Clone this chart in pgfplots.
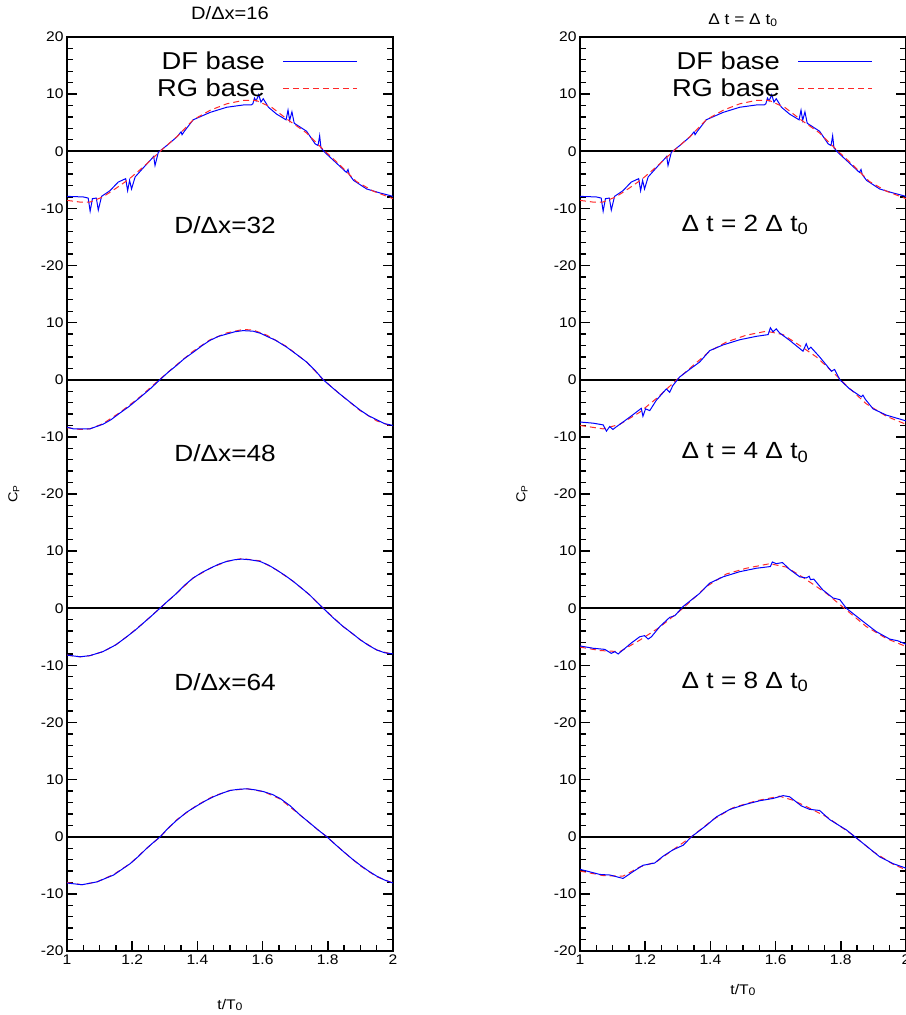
\documentclass[border=0pt]{standalone}
\usepackage{pgfplots}
\pgfplotsset{compat=1.18}
\usepackage{pgfplotstable}
\usepackage{fontspec}
\setmainfont{Liberation Sans}[FakeStretch=1.12]
\newcommand\sub[1]{\textsubscript{#1}}

% ---------- data: left column ----------
\pgfplotstableread{
x y
1.000 -7.9
1.050 -8.0
1.065 -8.2
1.071 -10.5
1.078 -8.3
1.090 -8.2
1.096 -10.3
1.106 -7.9
1.132 -6.9
1.157 -5.4
1.180 -4.8
1.186 -6.9
1.192 -5.1
1.198 -6.6
1.209 -4.5
1.234 -2.9
1.260 -1.3
1.266 -0.9
1.270 -2.5
1.280 -0.2
1.306 1.0
1.337 2.5
1.350 3.4
1.353 2.9
1.360 3.5
1.387 5.5
1.439 6.8
1.490 7.7
1.541 8.1
1.565 8.1
1.570 8.3
1.575 9.3
1.580 8.8
1.588 9.9
1.595 8.6
1.602 9.2
1.618 7.7
1.643 6.5
1.672 5.5
1.678 7.2
1.683 5.4
1.690 6.9
1.697 4.9
1.735 3.5
1.761 1.3
1.770 1.0
1.775 2.7
1.779 0.6
1.791 -0.2
1.827 -2.1
1.857 -3.7
1.862 -3.2
1.866 -4.1
1.879 -5.1
1.919 -6.6
1.960 -7.3
2.000 -7.9
}\pDFa
\pgfplotstableread{
x y
1.000 -8.6
1.040 -8.9
1.070 -8.9
1.110 -8.0
1.150 -6.5
1.190 -4.9
1.235 -2.7
1.290 0.2
1.340 2.7
1.387 5.5
1.440 7.2
1.490 8.3
1.540 8.9
1.580 8.9
1.630 7.6
1.680 5.4
1.735 3.2
1.786 0.3
1.837 -2.4
1.888 -5.3
1.940 -7.0
2.000 -8.3
}\pRGa
\pgfplotstableread{
x y
1.000 -8.3
1.020 -8.6
1.040 -8.6
1.070 -8.6
1.090 -8.2
1.110 -7.8
1.135 -7.0
1.163 -5.8
1.190 -4.7
1.224 -3.1
1.255 -1.6
1.285 0.0
1.310 1.3
1.336 2.5
1.360 3.7
1.387 4.8
1.415 6.0
1.439 6.9
1.465 7.6
1.490 8.0
1.515 8.4
1.540 8.6
1.571 8.5
1.595 8.1
1.613 7.6
1.640 6.9
1.674 5.7
1.705 4.4
1.735 3.1
1.760 1.7
1.786 0.0
1.810 -1.2
1.837 -2.5
1.870 -4.0
1.899 -5.3
1.925 -6.3
1.950 -7.0
1.975 -7.7
2.000 -8.0
}\pDFb
\pgfplotstableread{
x y
1.000 -8.4
1.040 -8.7
1.070 -8.6
1.110 -7.7
1.163 -5.7
1.224 -3.0
1.285 0.1
1.336 2.6
1.387 5.0
1.439 7.0
1.490 8.2
1.540 8.8
1.571 8.7
1.613 7.8
1.674 5.8
1.735 3.1
1.786 0.0
1.837 -2.5
1.899 -5.4
1.950 -7.2
2.000 -8.2
}\pRGb
\pgfplotstableread{
x y
1.000 -8.2
1.040 -8.5
1.070 -8.3
1.110 -7.6
1.150 -6.4
1.183 -5.0
1.210 -3.8
1.234 -2.6
1.260 -1.3
1.285 0.0
1.310 1.3
1.336 2.6
1.360 4.0
1.387 5.3
1.415 6.3
1.439 7.0
1.465 7.7
1.490 8.2
1.515 8.5
1.536 8.6
1.560 8.5
1.592 8.2
1.620 7.5
1.643 6.7
1.670 5.7
1.694 4.7
1.720 3.5
1.745 2.3
1.766 1.1
1.786 0.0
1.815 -1.6
1.847 -3.2
1.875 -4.4
1.899 -5.5
1.925 -6.5
1.950 -7.3
1.975 -7.8
2.000 -8.0
}\pDFc
\pgfplotstableread{
x y
1.000 -8.2
1.040 -8.5
1.070 -8.3
1.110 -7.6
1.150 -6.4
1.183 -5.0
1.234 -2.6
1.285 0.0
1.336 2.6
1.387 5.3
1.439 7.0
1.490 8.2
1.536 8.7
1.592 8.3
1.643 6.7
1.694 4.7
1.745 2.3
1.786 0.0
1.847 -3.2
1.899 -5.5
1.950 -7.3
2.000 -8.1
}\pRGc
\pgfplotstableread{
x y
1.000 -8.1
1.046 -8.4
1.092 -7.9
1.143 -6.7
1.194 -4.7
1.220 -3.4
1.245 -2.0
1.265 -1.0
1.286 0.0
1.310 1.5
1.337 2.9
1.367 4.3
1.398 5.4
1.425 6.3
1.449 7.0
1.475 7.6
1.500 8.1
1.525 8.3
1.552 8.4
1.578 8.2
1.603 7.9
1.630 7.4
1.654 6.7
1.685 5.4
1.715 3.8
1.745 2.4
1.770 1.2
1.797 0.0
1.822 -1.3
1.848 -2.6
1.875 -3.9
1.900 -5.0
1.925 -6.0
1.950 -6.9
1.975 -7.6
2.000 -8.1
}\pDFd
\pgfplotstableread{
x y
1.000 -8.0
1.046 -8.4
1.092 -7.9
1.143 -6.6
1.194 -4.7
1.245 -2.0
1.286 0.0
1.337 3.0
1.398 5.5
1.449 7.1
1.500 8.1
1.552 8.4
1.603 7.9
1.654 6.6
1.715 3.8
1.770 1.2
1.797 0.0
1.848 -2.6
1.900 -5.1
1.950 -7.0
2.000 -8.1
}\pRGd
% ---------- data: right column ----------
\pgfplotstableread{
x y
1.000 -7.4
1.040 -7.6
1.071 -7.9
1.081 -9.0
1.091 -8.2
1.101 -8.7
1.110 -8.3
1.132 -7.4
1.163 -6.1
1.188 -5.0
1.193 -6.4
1.201 -5.1
1.214 -5.4
1.234 -3.6
1.265 -1.6
1.275 -2.2
1.285 -1.0
1.306 0.5
1.336 1.8
1.367 3.1
1.398 5.1
1.439 6.1
1.490 7.0
1.541 7.6
1.577 7.9
1.584 9.1
1.592 8.4
1.602 8.9
1.612 8.2
1.643 6.9
1.684 5.0
1.694 6.3
1.701 5.3
1.708 5.7
1.735 4.0
1.771 1.5
1.781 1.8
1.797 0.0
1.827 -1.6
1.863 -3.0
1.868 -2.7
1.875 -3.4
1.899 -5.1
1.940 -6.2
1.970 -6.7
2.000 -7.2
}\qDFb
\pgfplotstableread{
x y
1.000 -8.0
1.071 -8.6
1.122 -7.8
1.183 -5.7
1.234 -3.3
1.295 -0.1
1.347 2.5
1.398 5.0
1.449 6.6
1.510 7.8
1.572 8.5
1.623 7.9
1.674 6.0
1.725 4.0
1.776 1.3
1.817 -1.0
1.878 -4.2
1.940 -6.4
2.000 -7.8
}\qRGb
\pgfplotstableread{
x y
1.000 -6.6
1.040 -7.0
1.076 -7.2
1.096 -7.9
1.107 -7.6
1.117 -8.0
1.132 -7.3
1.157 -6.1
1.183 -5.0
1.198 -4.8
1.209 -5.4
1.219 -5.0
1.245 -3.2
1.275 -1.6
1.291 -1.3
1.316 0.3
1.367 2.6
1.398 4.4
1.439 5.5
1.490 6.4
1.541 7.0
1.584 7.3
1.590 8.1
1.602 7.8
1.621 8.0
1.643 6.8
1.674 5.5
1.694 5.3
1.703 5.6
1.707 5.0
1.717 5.1
1.745 3.2
1.776 1.8
1.797 1.5
1.817 0.0
1.868 -2.3
1.909 -4.1
1.950 -5.4
1.975 -5.7
2.000 -6.3
}\qDFc
\pgfplotstableread{
x y
1.000 -6.8
1.061 -7.4
1.122 -7.6
1.183 -5.6
1.245 -3.3
1.316 0.0
1.388 3.8
1.449 6.0
1.510 7.0
1.582 7.8
1.633 7.2
1.684 5.4
1.756 2.6
1.817 -0.3
1.878 -3.2
1.940 -5.3
2.000 -6.7
}\qRGc
\pgfplotstableread{
x y
1.000 -5.7
1.061 -6.6
1.092 -6.7
1.132 -7.3
1.163 -6.1
1.193 -5.0
1.229 -4.6
1.255 -3.4
1.285 -2.3
1.316 -1.5
1.342 0.0
1.388 2.0
1.419 3.5
1.460 4.8
1.510 5.7
1.551 6.3
1.592 6.7
1.623 7.2
1.643 7.0
1.679 5.4
1.704 4.8
1.735 4.6
1.766 3.0
1.797 1.9
1.817 1.2
1.843 0.0
1.878 -1.6
1.919 -3.5
1.960 -4.7
2.000 -5.5
}\qDFd
\pgfplotstableread{
x y
1.000 -6.0
1.071 -6.8
1.132 -6.9
1.183 -5.3
1.234 -4.4
1.285 -2.3
1.342 0.0
1.408 3.0
1.470 5.1
1.541 6.3
1.612 7.1
1.653 6.4
1.694 5.3
1.756 3.5
1.837 0.3
1.899 -2.6
1.960 -4.8
2.000 -5.8
}\qRGd

\definecolor{dfblue}{RGB}{0,0,255}
\definecolor{rgred}{RGB}{255,40,40}

\tikzset{plabel/.style={font=\fontsize{23.5}{28}\selectfont}}

\pgfplotsset{
  panel/.style={
    scale only axis, width=326bp, height=914bp,
    xmin=1, xmax=2, ymin=-20, ymax=140,
    xtick={1,1.2,1.4,1.6,1.8,2},
    xticklabels={1,1.2,1.4,1.6,1.8,2},
    minor x tick num=3,
    ytick={-20,-10,0,10,20,30,40,50,60,70,80,90,100,110,120,130,140},
    yticklabels={-20,-10,0,10,-20,-10,0,10,-20,-10,0,10,-20,-10,0,10,20},
    minor y tick num=4,
    xtick pos=bottom, ytick pos=both,
    tick align=inside,
    major tick length=10bp, minor tick length=6bp,
    every major tick/.style={black, line width=1.6bp},
    every minor tick/.style={black, line width=1.3bp},
    axis line style={line width=2.4bp},
    tick label style={font=\fontsize{14}{16}\selectfont},
    every axis title shift=0pt,
    legend cell align=right,
    legend plot pos=right,
    legend image code/.code={\draw[mark repeat=2,mark phase=2] plot coordinates {(0bp,0bp) (37bp,0bp) (74bp,0bp)};},
    legend style={draw=none, fill=none, inner sep=0pt,
      font=\fontsize{24.5}{28}\selectfont, row sep=4bp, column sep=16bp},
  },
  zero/.style={black, line width=2bp, forget plot},
  dfl/.style={color=dfblue, line width=1bp},
  rgl/.style={color=rgred, line width=1bp, dash pattern=on 6bp off 4bp},
  df/.style={dfl, forget plot},
  rg/.style={rgl, forget plot},
}

\begin{document}
\begin{tikzpicture}
% ================= left column =================
\begin{axis}[panel, at={(67bp,64bp)}, anchor=south west,
  title={\fontsize{18}{20}\selectfont D/Δx=16},
  title style={at={(axis description cs:0.5,1.0186)}, anchor=base},
  xlabel={\fontsize{14}{16}\selectfont t/T\raisebox{-0.15ex}{\fontsize{11}{12}\selectfont 0}},
  xlabel style={at={(axis description cs:0.5,-0.059)}, anchor=center},
  ylabel={\fontsize{13}{15}\selectfont C\sub{P}},
  ylabel style={at={(axis description cs:-0.163,0.5)}, anchor=center},
  legend style={at={(rel axis cs:0.893,0.986)}, anchor=north east},
]
\addplot[zero] coordinates {(1,0) (2,0)};
\addplot[zero] coordinates {(1,40) (2,40)};
\addplot[zero] coordinates {(1,80) (2,80)};
\addplot[zero] coordinates {(1,120) (2,120)};
\addplot[dfl] table[x=x, y expr=\thisrow{y}+120] {\pDFa};
\addlegendentry{DF base}
\addplot[rgl] table[x=x, y expr=\thisrow{y}+120] {\pRGa};
\addlegendentry{RG base}
\addplot[rg] table[x=x, y expr=\thisrow{y}+80] {\pRGb};
\addplot[df] table[x=x, y expr=\thisrow{y}+80] {\pDFb};
\addplot[rg] table[x=x, y expr=\thisrow{y}+40] {\pRGc};
\addplot[df] table[x=x, y expr=\thisrow{y}+40] {\pDFc};
\addplot[rg] table[x=x, y=y] {\pRGd};
\addplot[df] table[x=x, y=y] {\pDFd};
\node[plabel] at (axis cs:1.485,107.1) {D/Δx=32};
\node[plabel] at (axis cs:1.485,67.2) {D/Δx=48};
\node[plabel] at (axis cs:1.485,27.1) {D/Δx=64};
\end{axis}
% ================= right column =================
\begin{axis}[panel, at={(580bp,64bp)}, anchor=south west,
  title={\fontsize{15.5}{17}\selectfont Δ t = Δ t\sub{0}},
  title style={at={(axis description cs:0.5,1.0142)}, anchor=base},
  xlabel={\fontsize{14}{16}\selectfont t/T\raisebox{-0.15ex}{\fontsize{11}{12}\selectfont 0}},
  xlabel style={at={(axis description cs:0.5,-0.043)}, anchor=center},
  ylabel={\fontsize{13}{15}\selectfont C\sub{P}},
  ylabel style={at={(axis description cs:-0.178,0.5)}, anchor=center},
  legend style={at={(rel axis cs:0.899,0.986)}, anchor=north east},
]
\addplot[zero] coordinates {(1,0) (2,0)};
\addplot[zero] coordinates {(1,40) (2,40)};
\addplot[zero] coordinates {(1,80) (2,80)};
\addplot[zero] coordinates {(1,120) (2,120)};
\addplot[dfl] table[x=x, y expr=\thisrow{y}+120] {\pDFa};
\addlegendentry{DF base}
\addplot[rgl] table[x=x, y expr=\thisrow{y}+120] {\pRGa};
\addlegendentry{RG base}
\addplot[rg] table[x=x, y expr=\thisrow{y}+80] {\qRGb};
\addplot[df] table[x=x, y expr=\thisrow{y}+80] {\qDFb};
\addplot[rg] table[x=x, y expr=\thisrow{y}+40] {\qRGc};
\addplot[df] table[x=x, y expr=\thisrow{y}+40] {\qDFc};
\addplot[rg] table[x=x, y=y] {\qRGd};
\addplot[df] table[x=x, y=y] {\qDFd};
\node[plabel] at (axis cs:1.506,107.1) {Δ t = 2 Δ t\sub{0}};
\node[plabel] at (axis cs:1.506,67.2) {Δ t = 4 Δ t\sub{0}};
\node[plabel] at (axis cs:1.506,27.1) {Δ t = 8 Δ t\sub{0}};
\end{axis}
\pgfresetboundingbox
\path (0bp,0bp) rectangle (906bp,1015bp);
\end{tikzpicture}
\end{document}
